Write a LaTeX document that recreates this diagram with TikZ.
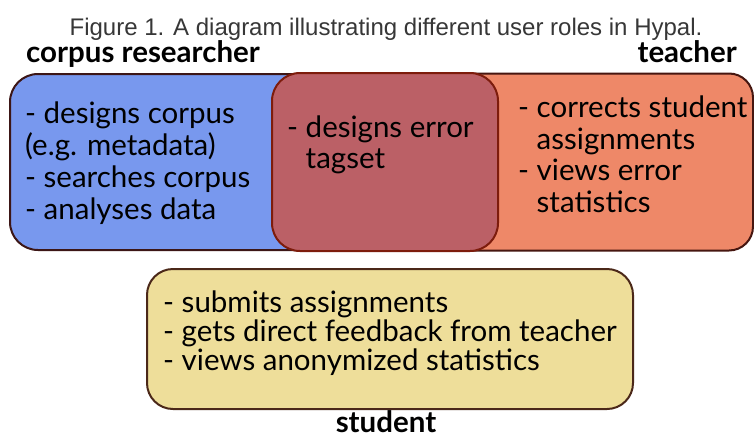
\documentclass[tikz,border=0pt]{standalone}
\usepackage{fontspec}
\setmainfont{Lato}
\newfontfamily\titlefont{Liberation Sans}
\definecolor{blueR}{RGB}{120,152,238}
\definecolor{redM}{RGB}{187,96,102}
\definecolor{orangeR}{RGB}{238,136,104}
\definecolor{yellowS}{RGB}{238,222,154}
\definecolor{bordBlue}{RGB}{60,22,22}
\definecolor{bordRed}{RGB}{125,28,12}
\definecolor{bordOrange}{RGB}{70,22,16}
\definecolor{bordYellow}{RGB}{75,40,25}
\definecolor{titleGray}{RGB}{55,55,55}
\begin{document}
\begin{tikzpicture}[x=1pt,y=-1pt,
  rolebox/.style={rectangle, rounded corners=28pt, line width=2pt, inner sep=0pt},
  boxtext/.style={align=left, inner sep=0pt, anchor=base west},
  rolelabel/.style={font=\fontsize{29.5}{32}\selectfont\bfseries, inner sep=0pt}]
\useasboundingbox (0,0) rectangle (754,439);
\fill[white] (0,0) rectangle (754,439);
% boxes (outer boxes extend under the shared box)
\node[rolebox, fill=blueR, draw=bordBlue, minimum width=340pt, minimum height=176pt] (researcher) at (180,162) {};
\node[rolebox, fill=orangeR, draw=bordOrange, minimum width=333pt, minimum height=177pt, rounded corners=24pt] (teacherbox) at (586.5,162) {};
\node[rolebox, fill=redM, draw=bordRed, minimum width=226pt, minimum height=178pt] (shared) at (385,162) {};
\node[rolebox, fill=yellowS, draw=bordYellow, minimum width=486pt, minimum height=140pt, rounded corners=26pt] (studentbox) at (390,339) {};
% title
\node[font=\titlefont\fontsize{24}{27}\selectfont, text=titleGray, inner sep=0pt, anchor=base] (title) at (386,35) {Figure 1. A diagram illustrating different user roles in Hypal.};
% role labels
\node[rolelabel, anchor=base west] (lblresearcher) at (26,62) {corpus researcher};
\node[rolelabel, anchor=base east] (lblteacher) at (737,62) {teacher};
\node[rolelabel, anchor=base] (lblstudent) at (386,432) {student};
% box texts (anchor at baseline of last line)
\node[boxtext, font=\fontsize{29.5}{32}\selectfont] (txtresearcher) at (25,219) {- designs corpus\\(e.g. metadata)\\- searches corpus\\- analyses data};
\node[boxtext, font=\fontsize{29.5}{31}\selectfont] (txtshared) at (287,168) {- designs error\\\phantom{- }tagset};
\node[boxtext, font=\fontsize{29.5}{31.5}\selectfont] (txtteacher) at (518,212) {- corrects student\\\phantom{- }assignments\\- views error\\\phantom{- }statistics};
\node[boxtext, font=\fontsize{29.5}{29}\selectfont] (txtstudent) at (163,370) {- submits assignments\\- gets direct feedback from teacher\\- views anonymized statistics};
\end{tikzpicture}
\end{document}
